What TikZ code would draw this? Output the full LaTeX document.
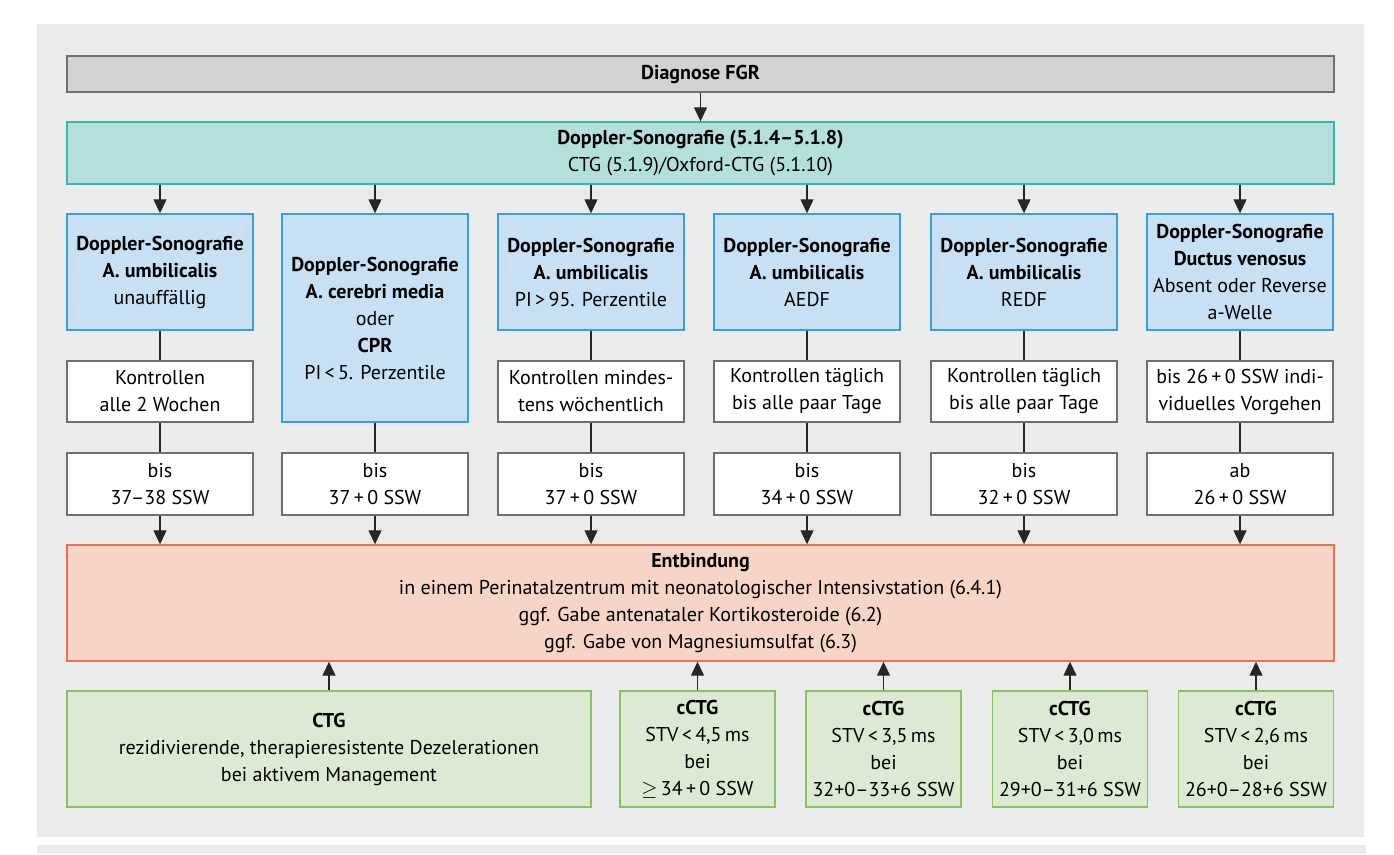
\documentclass[tikz,border=0pt]{standalone}
\usepackage{fontspec}
\setmainfont{PT Sans}
\usepackage{xcolor}
\usetikzlibrary{arrows.meta}
\definecolor{panelgray}{HTML}{EAEBEB}
\definecolor{boxgray}{HTML}{6E6F71}
\definecolor{diaggray}{HTML}{D1D2D4}
\definecolor{tealfill}{HTML}{B3E0DC}
\definecolor{tealline}{HTML}{3DB5A6}
\definecolor{bluefill}{HTML}{C7E0F4}
\definecolor{blueline}{HTML}{3B9FD9}
\definecolor{orangefill}{HTML}{F6D5C7}
\definecolor{orangeline}{HTML}{E9714F}
\definecolor{greenfill}{HTML}{DDEAD3}
\definecolor{greenline}{HTML}{8DC063}

\begin{document}
\begin{tikzpicture}[x=1pt,y=-1pt,
  every node/.style={font=\fontsize{20}{27}\selectfont,align=center,inner sep=0pt,line width=1.4pt},
  whitebox/.style={draw=boxgray,fill=white,minimum width=186pt,minimum height=62pt},
  bluebox/.style={draw=blueline,fill=bluefill,minimum width=186pt,minimum height=116pt},
  greenbox/.style={draw=greenline,fill=greenfill,minimum width=155pt,minimum height=116pt},
  ln/.style={line width=1.3pt,draw=black!85},
  arr/.style={ln,-{Triangle[length=14pt,width=13pt]}}]
\useasboundingbox (0,0) rectangle (1394,854);
\fill[panelgray] (37,24) rectangle (1364,837);
\fill[panelgray] (37,845) rectangle (1366,854);

\node[draw=boxgray,fill=diaggray,minimum width=1267pt,minimum height=36pt] (diag) at (700.5,74) {\textbf{Diagnose FGR}};
\node[draw=tealline,fill=tealfill,minimum width=1267pt,minimum height=62pt] (dopp) at (700.5,153) {\textbf{Doppler-Sonografie (5.1.4--5.1.8)}\\CTG (5.1.9)/Oxford-CTG (5.1.10)};
\draw[arr] (diag) -- (dopp);

% Doppler-Befunde
\node[bluebox] (a1) at (160,272) {\textbf{Doppler-Sonografie}\\\textbf{A. umbilicalis}\\unauffällig};
\node[bluebox,minimum height=208pt] (a2) at (375,318) {\textbf{Doppler-Sonografie}\\\textbf{A. cerebri media}\\oder\\\textbf{CPR}\\PI\,<\,5. Perzentile};
\node[bluebox] (a3) at (591,272) {\textbf{Doppler-Sonografie}\\\textbf{A. umbilicalis}\\PI\,>\,95. Perzentile};
\node[bluebox] (a4) at (807,272) {\textbf{Doppler-Sonografie}\\\textbf{A. umbilicalis}\\AEDF};
\node[bluebox] (a5) at (1024,272) {\textbf{Doppler-Sonografie}\\\textbf{A. umbilicalis}\\REDF};
\node[bluebox] (a6) at (1240,272) {\textbf{Doppler-Sonografie}\\\textbf{Ductus venosus}\\Absent oder Reverse\\a-Welle};

% Kontrollen
\node[whitebox,minimum height=61pt] (k1) at (160,391.5) {Kontrollen\\alle 2 Wochen};
\node[whitebox,minimum height=61pt] (k3) at (591,391.5) {Kontrollen mindes-\\tens wöchentlich};
\node[whitebox,minimum height=61pt] (k4) at (807,391.5) {Kontrollen täglich\\bis alle paar Tage};
\node[whitebox,minimum height=61pt] (k5) at (1024,391.5) {Kontrollen täglich\\bis alle paar Tage};
\node[whitebox,minimum height=61pt] (k6) at (1240,391.5) {bis 26\,+\,0 SSW indi-\\viduelles Vorgehen};

% Zeitpunkte
\node[whitebox] (b1) at (160,484) {bis\\37--38 SSW};
\node[whitebox] (b2) at (375,484) {bis\\37\,+\,0 SSW};
\node[whitebox] (b3) at (591,484) {bis\\37\,+\,0 SSW};
\node[whitebox] (b4) at (807,484) {bis\\34\,+\,0 SSW};
\node[whitebox] (b5) at (1024,484) {bis\\32\,+\,0 SSW};
\node[whitebox] (b6) at (1240,484) {ab\\26\,+\,0 SSW};

\node[draw=orangeline,fill=orangefill,minimum width=1267pt,minimum height=116pt] (entb) at (700.5,603) {\textbf{Entbindung}\\in einem Perinatalzentrum mit neonatologischer Intensivstation (6.4.1)\\ggf. Gabe antenataler Kortikosteroide (6.2)\\ggf. Gabe von Magnesiumsulfat (6.3)};

% CTG-Kriterien
\node[greenbox,minimum width=524pt] (c0) at (329,749) {\textbf{CTG}\\rezidivierende, therapieresistente Dezelerationen\\bei aktivem Management};
\node[greenbox] (c1) at (697.5,749) {\textbf{cCTG}\\STV\,<\,4,5\,ms\\bei\\$\geq$\,34\,+\,0 SSW};
\node[greenbox] (c2) at (883.5,749) {\textbf{cCTG}\\STV\,<\,3,5\,ms\\bei\\32+0--33+6 SSW};
\node[greenbox] (c3) at (1070,749) {\textbf{cCTG}\\STV\,<\,3,0\,ms\\bei\\29+0--31+6 SSW};
\node[greenbox] (c4) at (1256,749) {\textbf{cCTG}\\STV\,<\,2,6\,ms\\bei\\26+0--28+6 SSW};

\draw[arr](dopp.south -| a1)--(a1);\draw[arr](dopp.south -| a2)--(a2);\draw[arr](dopp.south -| a3)--(a3);
\draw[arr](dopp.south -| a4)--(a4);\draw[arr](dopp.south -| a5)--(a5);\draw[arr](dopp.south -| a6)--(a6);
\draw[ln](a1)--(k1);\draw[ln](k1)--(b1);\draw[ln](a2)--(b2);\draw[ln](a3)--(k3);\draw[ln](k3)--(b3);
\draw[ln](a4)--(k4);\draw[ln](k4)--(b4);\draw[ln](a5)--(k5);\draw[ln](k5)--(b5);\draw[ln](a6)--(k6);\draw[ln](k6)--(b6);
\draw[arr](b1)--(b1 |- entb.north);\draw[arr](b2)--(b2 |- entb.north);\draw[arr](b3)--(b3 |- entb.north);
\draw[arr](b4)--(b4 |- entb.north);\draw[arr](b5)--(b5 |- entb.north);\draw[arr](b6)--(b6 |- entb.north);
\draw[arr](c0)--(c0 |- entb.south);\draw[arr](c1)--(c1 |- entb.south);\draw[arr](c2)--(c2 |- entb.south);
\draw[arr](c3)--(c3 |- entb.south);\draw[arr](c4)--(c4 |- entb.south);
\end{tikzpicture}
\end{document}
